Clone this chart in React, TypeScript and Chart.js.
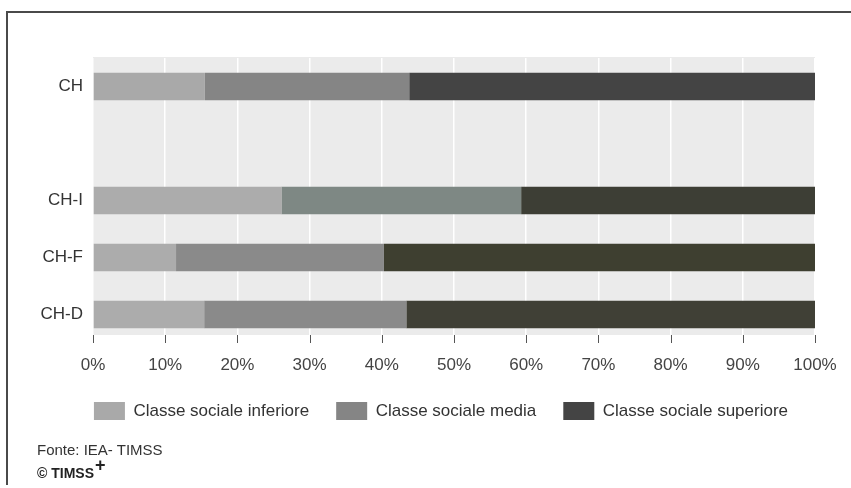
import React, { useEffect, useRef } from "react";
import { Chart, registerables } from "chart.js";

Chart.register(...registerables);

const categories = ["CH", "", "CH-I", "CH-F", "CH-D"];
const inferiore = [15.5, null, 26.1, 11.5, 15.4];
const media = [28.3, null, 33.2, 28.8, 28.0];
const superiore = [56.2, null, 40.7, 59.7, 56.6];
const seriesLabels = [
  "Classe sociale inferiore",
  "Classe sociale media",
  "Classe sociale superiore",
];
const xMin = 0;
const xMax = 100;
const xStep = 10;

const colInferiore = ["#a9a9a9", "#a9a9a9", "#acacac", "#acacac", "#acacac"];
const colMedia = ["#858585", "#858585", "#7e8884", "#8a8a8a", "#8a8a8a"];
const colSuperiore = ["#444444", "#444444", "#3d3e35", "#3e3f30", "#404036"];

const FONT = "'Liberation Sans', Arial, Helvetica, sans-serif";

const plotBg = {
  id: "plotBg",
  beforeDraw(chart: any) {
    const { ctx, chartArea: a } = chart;
    ctx.save();
    ctx.fillStyle = "#ebebeb";
    ctx.fillRect(a.left, a.top - 1, a.right - a.left, a.bottom - a.top - 7);
    ctx.restore();
  },
};

const tickMarks = {
  id: "tickMarks",
  afterDraw(chart: any) {
    const { ctx, chartArea: a } = chart;
    const xs = chart.scales.x;
    ctx.save();
    ctx.strokeStyle = "#555555";
    ctx.lineWidth = 1;
    xs.ticks.forEach((_t: any, i: number) => {
      const px = Math.round(xs.getPixelForTick(i)) + 0.5;
      ctx.beginPath();
      ctx.moveTo(px, a.bottom - 8);
      ctx.lineTo(px, a.bottom);
      ctx.stroke();
    });
    ctx.restore();
  },
};

export default function App() {
  const ref = useRef<HTMLCanvasElement | null>(null);

  useEffect(() => {
    if (!ref.current) return;
    const chart = new Chart(ref.current, {
      type: "bar",
      data: {
        labels: categories,
        datasets: [
          { label: seriesLabels[0], data: inferiore, backgroundColor: colInferiore },
          { label: seriesLabels[1], data: media, backgroundColor: colMedia },
          { label: seriesLabels[2], data: superiore, backgroundColor: colSuperiore },
        ],
      },
      options: {
        indexAxis: "y",
        responsive: false,
        animation: false,
        layout: { padding: { left: 0, right: 36, top: 58, bottom: 58 } },
        datasets: {
          bar: { categoryPercentage: 1, barPercentage: 0.48, borderWidth: 0 },
        },
        scales: {
          x: {
            stacked: true,
            min: xMin,
            max: xMax,
            afterFit: (s: any) => {
              s.height = 32;
            },
            ticks: {
              stepSize: xStep,
              padding: 12,
              color: "#444444",
              font: { family: FONT, size: 17 },
              callback: (v: any) => v + "%",
            },
            grid: { color: "#ffffff", lineWidth: 1.5, drawTicks: false },
            border: { display: false },
          },
          y: {
            stacked: true,
            afterFit: (s: any) => {
              s.width = 93;
            },
            ticks: {
              padding: 10,
              color: "#333333",
              font: { family: FONT, size: 17 },
            },
            grid: { display: false, drawTicks: false },
            border: { display: false },
          },
        },
        plugins: {
          legend: {
            position: "bottom",
            align: "end",
            labels: {
              boxWidth: 31,
              boxHeight: 18,
              padding: 27,
              color: "#333333",
              font: { family: FONT, size: 17 },
            },
          },
          tooltip: { enabled: false },
        },
      },
      plugins: [plotBg, tickMarks],
    } as any);
    return () => chart.destroy();
  }, []);

  return (
    <div style={{ position: "absolute", left: 0, top: 0, width: 851, height: 488, background: "#ffffff", overflow: "hidden" }}>
      <div
        style={{
          position: "absolute",
          left: 6,
          top: 11,
          width: 850,
          height: 472,
          borderTop: "2px solid #4a4a4a",
          borderLeft: "2px solid #4a4a4a",
        }}
      />
      <canvas ref={ref} width={851} height={488} style={{ position: "absolute", left: 0, top: 0 }} />
      <div
        style={{
          position: "absolute",
          left: 37,
          top: 441,
          fontFamily: FONT,
          fontSize: 15,
          color: "#333333",
          lineHeight: "18px",
          whiteSpace: "nowrap",
        }}
      >
        Fonte: IEA- TIMSS
      </div>
      <div
        style={{
          position: "absolute",
          left: 37,
          top: 463,
          fontFamily: FONT,
          fontSize: 14,
          fontWeight: "bold",
          color: "#222222",
          lineHeight: "18px",
          whiteSpace: "nowrap",
        }}
      >
        © TIMSS
        <span style={{ fontSize: 18, position: "relative", top: -7, marginLeft: 1 }}>+</span>
      </div>
    </div>
  );
}
